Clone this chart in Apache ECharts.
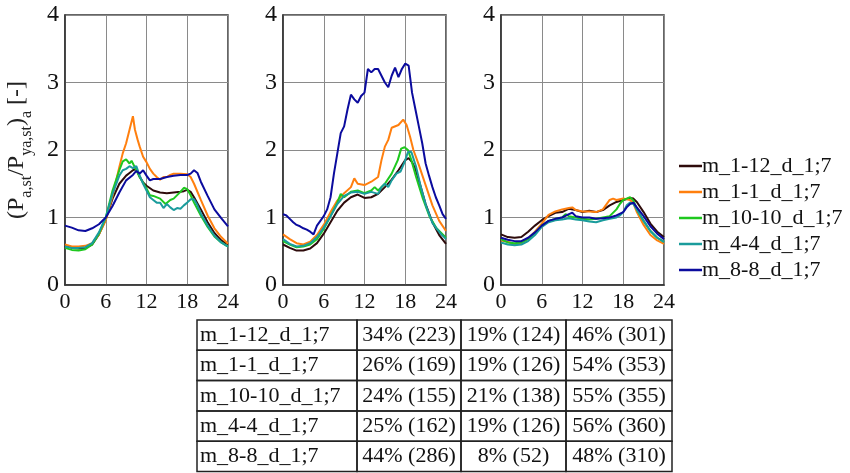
<!DOCTYPE html>
<html>
<head>
<meta charset="utf-8">
<script src="https://cdn.jsdelivr.net/npm/echarts@6/dist/echarts.min.js"></script>
<style>
  html, body { margin: 0; padding: 0; background: #fff; }
  #chart { width: 850px; height: 473px; }
</style>
</head>
<body>
<div id="chart"></div>
<script>
// Series names (legend + table rows) and their line colours
const SERIES_NAMES = ['m_1-12_d_1;7', 'm_1-1_d_1;7', 'm_10-10_d_1;7', 'm_4-4_d_1;7', 'm_8-8_d_1;7'];
const SERIES_COLORS = ['#2e0b0b', '#ff7f0e', '#1ec81e', '#1a9c9c', '#0b0b9e'];

// Axis ticks
const X_TICKS = [0, 6, 12, 18, 24];
const Y_TICKS = [0, 1, 2, 3, 4];

// Panel 1 — daily profiles, [hour, ratio]
const p1_m1_12 = [[0,0.58],[1,0.55],[2,0.54],[3,0.55],[4,0.6],[5,0.75],[6,0.97],[7,1.28],[8,1.5],[9,1.62],[9.5,1.66],[10,1.7],[10.5,1.72],[11,1.6],[11.5,1.52],[12,1.47],[13,1.4],[14,1.37],[15,1.36],[16,1.37],[17,1.38],[17.5,1.39],[18,1.41],[18.5,1.38],[19,1.3],[20,1.12],[21,0.93],[22,0.77],[23,0.66],[24,0.6]];
const p1_m1_1 = [[0,0.6],[1,0.57],[2,0.57],[3,0.58],[4,0.62],[5,0.75],[6,0.96],[7,1.32],[8,1.75],[8.5,1.95],[9,2.1],[9.5,2.3],[10,2.5],[10.3,2.3],[10.7,2.15],[11,2.05],[11.5,1.9],[12,1.82],[12.5,1.72],[13,1.65],[13.5,1.6],[14,1.56],[14.5,1.6],[15,1.6],[15.5,1.63],[16,1.65],[17,1.65],[18,1.64],[18.5,1.6],[19,1.5],[20,1.26],[21,1.03],[22,0.84],[23,0.71],[24,0.61]];
const p1_m10_10 = [[0,0.55],[1,0.52],[2,0.51],[3,0.53],[4,0.6],[5,0.76],[6,1.0],[7,1.4],[8,1.7],[8.5,1.83],[9,1.86],[9.5,1.8],[9.8,1.84],[10.5,1.7],[11,1.6],[12,1.43],[12.5,1.33],[13,1.32],[14,1.28],[14.8,1.2],[15.5,1.26],[16,1.28],[17,1.38],[17.5,1.44],[18,1.42],[18.5,1.33],[19,1.22],[20,1.03],[21,0.86],[22,0.72],[23,0.63],[24,0.57]];
const p1_m4_4 = [[0,0.57],[1,0.55],[2,0.55],[3,0.56],[4,0.62],[5,0.78],[6,1.0],[7,1.35],[8,1.62],[8.5,1.7],[9,1.72],[9.5,1.76],[10,1.73],[10.5,1.76],[11,1.62],[11.5,1.5],[12,1.4],[12.5,1.3],[13,1.26],[13.5,1.22],[14,1.22],[14.5,1.14],[15,1.2],[15.5,1.15],[16,1.11],[16.5,1.14],[17,1.13],[17.5,1.18],[18,1.22],[18.5,1.27],[19,1.27],[19.5,1.18],[20,1.06],[21,0.88],[22,0.73],[23,0.63],[24,0.57]];
const p1_m8_8 = [[0,0.88],[1,0.85],[2,0.81],[3,0.8],[4,0.84],[5,0.9],[6,1.0],[7,1.17],[8,1.37],[9,1.55],[10,1.63],[10.5,1.69],[11,1.65],[11.5,1.7],[12,1.62],[12.5,1.55],[13,1.57],[14,1.57],[15,1.6],[16,1.62],[17,1.63],[18,1.63],[18.5,1.65],[19,1.7],[19.5,1.66],[20,1.53],[21,1.32],[22,1.12],[23,0.99],[24,0.87]];

// Panel 2
const p2_m1_12 = [[0,0.6],[1,0.55],[2,0.51],[3,0.51],[4,0.54],[5,0.62],[6,0.76],[7,0.93],[8,1.1],[9,1.22],[10,1.3],[11,1.34],[12,1.29],[13,1.3],[14,1.35],[15,1.45],[16,1.56],[17,1.7],[18,1.85],[18.5,1.88],[19,1.82],[19.5,1.72],[20,1.55],[21,1.2],[22,0.93],[23,0.74],[24,0.61]];
const p2_m1_1 = [[0,0.75],[1,0.68],[2,0.62],[3,0.6],[4,0.64],[5,0.74],[6,0.89],[7,1.08],[8,1.25],[9,1.36],[10,1.45],[10.5,1.58],[11,1.5],[12,1.48],[13,1.53],[14,1.6],[14.5,1.85],[15,2.05],[15.5,2.15],[16,2.33],[17,2.37],[17.7,2.45],[18.2,2.37],[18.7,2.2],[19.2,2.0],[20,1.78],[21,1.48],[22,1.18],[23,0.95],[24,0.8]];
const p2_m10_10 = [[0,0.65],[1,0.6],[2,0.56],[3,0.57],[4,0.6],[5,0.68],[6,0.83],[7,1.02],[8,1.22],[8.5,1.35],[9,1.3],[10,1.38],[11,1.4],[12,1.36],[13,1.4],[13.5,1.45],[14,1.4],[15,1.5],[16,1.65],[16.9,1.85],[17.4,2.02],[17.9,2.04],[18.4,2.0],[18.9,1.85],[19.6,1.6],[20.6,1.28],[21.6,1.01],[22.6,0.84],[24,0.7]];
const p2_m4_4 = [[0,0.68],[1,0.61],[2,0.57],[3,0.58],[4,0.62],[5,0.71],[6,0.85],[7,1.02],[8,1.2],[9,1.32],[10,1.37],[11,1.38],[12,1.35],[13,1.38],[14,1.35],[14.5,1.45],[15,1.5],[15.5,1.45],[16,1.55],[16.7,1.65],[17.3,1.68],[17.9,1.82],[18.4,1.97],[18.9,1.97],[19.6,1.75],[20.3,1.45],[21.1,1.16],[22,0.92],[22.6,0.84],[23.3,0.75],[24,0.68]];
const p2_m8_8 = [[0,1.05],[0.5,1.03],[1,0.98],[1.5,0.93],[2,0.89],[2.5,0.87],[3,0.84],[3.5,0.82],[4,0.79],[4.5,0.75],[5,0.88],[5.5,0.95],[6,1.02],[6.5,1.12],[7,1.3],[7.5,1.65],[8,1.95],[8.5,2.25],[9,2.35],[9.5,2.6],[10,2.82],[10.5,2.75],[11,2.7],[11.5,2.8],[12,2.85],[12.5,3.2],[13,3.15],[13.5,3.2],[14,3.2],[14.5,3.1],[15,3.0],[15.5,2.93],[16,3.1],[16.5,3.22],[17,3.08],[17.5,3.2],[18,3.28],[18.5,3.25],[19,2.85],[19.5,2.6],[20,2.35],[20.5,2.1],[21,1.8],[21.5,1.62],[22,1.45],[22.5,1.3],[23,1.18],[23.5,1.05],[24,0.98]];

// Panel 3
const p3_m1_12 = [[0,0.75],[1,0.71],[2,0.7],[3,0.71],[4,0.79],[5,0.88],[6,0.96],[7,1.02],[8,1.07],[9,1.08],[10,1.13],[11,1.11],[12,1.08],[13,1.1],[14,1.08],[15,1.11],[16,1.18],[17,1.23],[18,1.26],[19,1.29],[19.5,1.28],[20,1.23],[21,1.08],[22,0.91],[23,0.79],[24,0.71]];
const p3_m1_1 = [[0,0.66],[1,0.64],[2,0.6],[3,0.61],[4,0.69],[5,0.79],[6,0.91],[7,1.04],[8,1.09],[9,1.12],[10,1.14],[10.5,1.15],[11,1.11],[12,1.09],[13,1.09],[14,1.08],[15,1.12],[16,1.26],[16.5,1.28],[17,1.26],[18,1.28],[19,1.26],[19.5,1.21],[20,1.08],[21,0.89],[22,0.74],[23,0.66],[24,0.61]];
const p3_m10_10 = [[0,0.68],[1,0.63],[2,0.62],[3,0.63],[4,0.68],[5,0.77],[6,0.88],[7,0.95],[8,0.98],[9,1.0],[9.5,1.05],[10,1.02],[11,1.0],[12,0.98],[13,0.97],[14,0.98],[15,1.0],[16,1.02],[17,1.12],[17.5,1.2],[18,1.26],[18.5,1.28],[19,1.3],[19.5,1.25],[20,1.12],[21,0.95],[22,0.8],[23,0.7],[24,0.64]];
const p3_m4_4 = [[0,0.63],[1,0.6],[2,0.59],[3,0.6],[4,0.65],[5,0.74],[6,0.86],[7,0.93],[8,0.96],[9,0.97],[10,0.99],[11,0.97],[12,0.96],[13,0.94],[14,0.93],[15,0.96],[16,0.98],[17,1.0],[17.5,1.03],[18,1.08],[18.5,1.18],[19,1.22],[19.5,1.2],[20,1.12],[21,0.95],[22,0.8],[23,0.7],[24,0.64]];
const p3_m8_8 = [[0,0.7],[1,0.67],[2,0.65],[3,0.65],[4,0.7],[5,0.78],[6,0.88],[7,0.95],[8,0.98],[9,1.0],[10,1.05],[10.5,1.07],[11,1.02],[12,1.0],[13,1.0],[14,0.98],[15,0.99],[16,1.0],[17,1.03],[18,1.08],[18.5,1.15],[19,1.2],[19.5,1.22],[20,1.15],[21,1.02],[22,0.87],[23,0.76],[24,0.68]];

// Table of shares per period: percent (count)
const TABLE_ROW_LABELS = SERIES_NAMES;
const TABLE_COL_A = ['34% (223)', '26% (169)', '24% (155)', '25% (162)', '44% (286)'];
const TABLE_COL_B = ['19% (124)', '19% (126)', '21% (138)', '19% (126)', '8% (52)'];
const TABLE_COL_C = ['46% (301)', '54% (353)', '55% (355)', '56% (360)', '48% (310)'];

const PANELS = [
  [p1_m1_12, p1_m1_1, p1_m10_10, p1_m4_4, p1_m8_8],
  [p2_m1_12, p2_m1_1, p2_m10_10, p2_m4_4, p2_m8_8],
  [p3_m1_12, p3_m1_1, p3_m10_10, p3_m4_4, p3_m8_8]
];

const FONT = "'Liberation Serif', 'Times New Roman', serif";
const chart = echarts.init(document.getElementById('chart'), null, { renderer: 'canvas' });

const panelLeft = [65, 283, 501];
const grids = panelLeft.map(l => ({
  left: l, top: 15, width: 163, height: 270,
  show: true, borderColor: '#333', borderWidth: 1.5, backgroundColor: 'transparent'
}));

const xAxes = panelLeft.map((_, i) => ({
  type: 'value', gridIndex: i,
  min: X_TICKS[0], max: X_TICKS[X_TICKS.length - 1], interval: X_TICKS[1] - X_TICKS[0],
  axisLine: { show: true, lineStyle: { color: '#333', width: 1.5 } },
  axisTick: { show: false },
  axisLabel: { color: '#111', fontFamily: FONT, fontSize: 22, margin: 6 },
  splitLine: { show: true, lineStyle: { color: '#8a8a8a', width: 1 } }
}));

const yAxes = panelLeft.map((_, i) => ({
  type: 'value', gridIndex: i,
  min: Y_TICKS[0], max: Y_TICKS[Y_TICKS.length - 1], interval: Y_TICKS[1] - Y_TICKS[0],
  axisLine: { show: true, lineStyle: { color: '#333', width: 1.5 } },
  axisTick: { show: false },
  axisLabel: { color: '#111', fontFamily: FONT, fontSize: 24, margin: 6 },
  splitLine: { show: true, lineStyle: { color: '#8a8a8a', width: 1 } },
  name: i === 0 ? '{m|(P}{s|a,st}{m|/P}{s|ya,st}{m|)}{s|a}{m| [-]}' : '',
  nameLocation: 'middle', nameRotate: 90, nameGap: 30,
  nameTextStyle: {
    color: '#222', fontFamily: FONT,
    rich: {
      m: { fontFamily: FONT, fontSize: 24, lineHeight: 24, verticalAlign: 'top', color: '#222' },
      s: { fontFamily: FONT, fontSize: 16, lineHeight: 30, verticalAlign: 'bottom', color: '#222' }
    }
  }
}));

const series = [];
PANELS.forEach((panel, pi) => {
  panel.forEach((data, si) => {
    series.push({
      name: SERIES_NAMES[si], type: 'line', xAxisIndex: pi, yAxisIndex: pi,
      data: data, symbol: 'none', smooth: false,
      lineStyle: { color: SERIES_COLORS[si], width: 2 },
      itemStyle: { color: SERIES_COLORS[si] },
      z: si === 4 ? 3 : 2
    });
  });
});

// Summary table below the panels
const tableTop = 320, rowH = 30.3;
const colEdges = [197, 357, 461, 566, 672];
const graphics = [];
TABLE_ROW_LABELS.forEach((label, r) => {
  const y = tableTop + r * rowH;
  const cells = [label, TABLE_COL_A[r], TABLE_COL_B[r], TABLE_COL_C[r]];
  cells.forEach((txt, c) => {
    const x0 = colEdges[c], x1 = colEdges[c + 1];
    graphics.push({
      type: 'rect', shape: { x: x0, y: y, width: x1 - x0, height: rowH },
      style: { fill: 'transparent', stroke: '#222', lineWidth: 1.5 }, silent: true
    });
    graphics.push({
      type: 'text',
      x: c === 0 ? x0 + 3 : (x0 + x1) / 2,
      y: y + rowH / 2,
      style: {
        text: txt, font: '22px ' + FONT, fill: '#111',
        textAlign: c === 0 ? 'left' : 'center', textVerticalAlign: 'middle'
      },
      silent: true
    });
  });
});

chart.setOption({
  animation: false,
  backgroundColor: '#fff',
  grid: grids,
  xAxis: xAxes,
  yAxis: yAxes,
  legend: {
    data: SERIES_NAMES,
    orient: 'vertical', left: 674, top: 150,
    icon: 'rect', itemWidth: 23, itemHeight: 2.5, itemGap: 4,
    textStyle: { fontFamily: FONT, fontSize: 22, color: '#111', padding: [0, 0, 0, -5] }
  },
  series: series,
  graphic: graphics
});
</script>
</body>
</html>
